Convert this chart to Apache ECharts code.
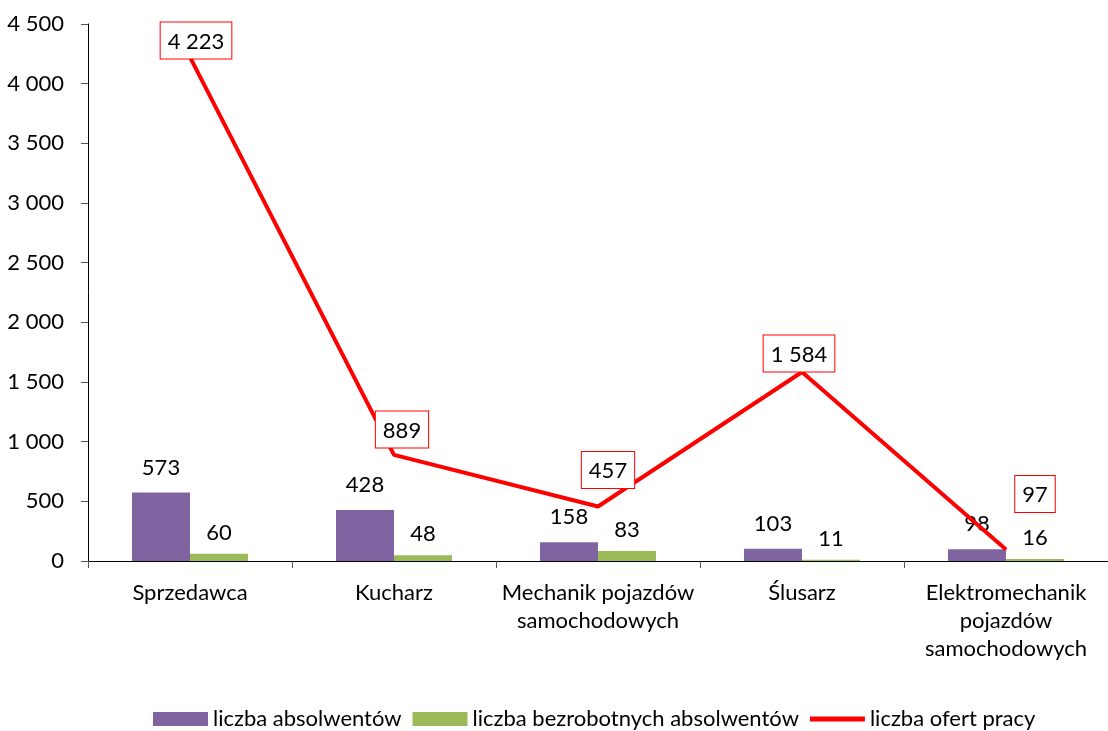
<!DOCTYPE html>
<html>
<head>
<meta charset="utf-8">
<script src="https://cdn.jsdelivr.net/npm/echarts@6/dist/echarts.min.js"></script>
<style>
  html, body { margin: 0; padding: 0; background: #fff; }
  #chart { width: 1108px; height: 731px; }
</style>
</head>
<body>
<div id="chart"></div>
<script>
var categories = ['Sprzedawca', 'Kucharz', 'Mechanik pojazdów\nsamochodowych', 'Ślusarz', 'Elektromechanik\npojazdów\nsamochodowych']
var absolwenci = [573, 428, 158, 103, 98]
var bezrobotni = [60, 48, 83, 11, 16]
var oferty = [4223, 889, 457, 1584, 97]

// liczby z odstępem tysięcy, jak w oryginale
function fmt(v) {
  return String(v).replace(/\B(?=(\d{3})+(?!\d))/g, ' ')
}

var font = 'Lato, "Open Sans", sans-serif'
var fs = 22
// przesunięcia etykiet linii (ręcznie, żeby nie nachodziły)
var lineLabelOffsets = [[6, 2], [8, -7], [10, -18], [-3, 0], [29, -37]]

var chart = echarts.init(document.getElementById('chart'))
var option = {
  animation: false,
  textStyle: { fontFamily: font },
  grid: { left: 88, right: 0, top: 24, bottom: 170 },
  legend: {
    bottom: -4,
    left: 148,
    itemGap: 11,
    itemWidth: 55,
    itemHeight: 14,
    textStyle: { fontSize: fs, color: '#000', fontFamily: font },
    data: [
      { name: 'liczba absolwentów', icon: 'rect' },
      { name: 'liczba bezrobotnych absolwentów', icon: 'rect' },
      { name: 'liczba ofert pracy', icon: 'path://M0,0h55v5h-55z' }
    ]
  },
  xAxis: {
    type: 'category',
    data: categories,
    axisLine: { lineStyle: { color: '#000', width: 1 } },
    axisTick: { show: true, length: 7, lineStyle: { color: '#555' } },
    axisLabel: { fontSize: fs, color: '#000', lineHeight: 28, margin: 18, interval: 0 }
  },
  yAxis: {
    type: 'value',
    min: 0,
    max: 4500,
    interval: 500,
    splitLine: { show: false },
    axisLine: { show: true, lineStyle: { color: '#000', width: 1 } },
    axisTick: { show: true, length: 7, lineStyle: { color: '#555' } },
    axisLabel: { fontSize: fs, color: '#000', margin: 24, formatter: fmt }
  },
  series: [
    {
      name: 'liczba absolwentów',
      type: 'bar',
      data: absolwenci,
      barWidth: 58,
      barGap: '0%',
      itemStyle: { color: '#8064a2' },
      label: { show: true, position: 'top', distance: 14, fontSize: fs, color: '#000', formatter: function (p) { return fmt(p.value) } }
    },
    {
      name: 'liczba bezrobotnych absolwentów',
      type: 'bar',
      data: bezrobotni,
      barWidth: 58,
      barGap: '0%',
      itemStyle: { color: '#9bbb59' },
      label: { show: true, position: 'top', distance: 10, fontSize: fs, color: '#000', formatter: function (p) { return fmt(p.value) } }
    },
    {
      name: 'liczba ofert pracy',
      type: 'line',
      data: oferty.map(function (v, i) {
        return { value: v, label: { offset: lineLabelOffsets[i] } }
      }),
      symbol: 'circle',
      symbolSize: 1,
      showSymbol: true,
      lineStyle: { color: '#ff0000', width: 4 },
      itemStyle: { color: '#ff0000' },
      z: 5,
      label: {
        show: true,
        position: 'top',
        distance: 0,
        fontSize: fs,
        color: '#000',
        backgroundColor: '#fff',
        borderColor: '#ff0000',
        borderWidth: 1,
        padding: [8, 7, 6, 7],
        formatter: function (p) { return fmt(p.value) }
      }
    }
  ]
}
chart.setOption(option)
</script>
</body>
</html>
